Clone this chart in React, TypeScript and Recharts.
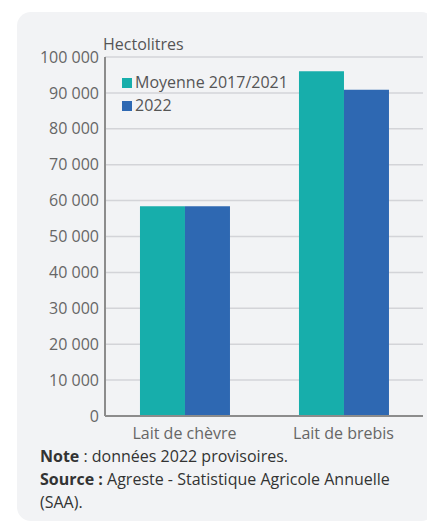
import { BarChart, Bar, XAxis, YAxis, CartesianGrid } from 'recharts';

const categories = ['Lait de chèvre', 'Lait de brebis'];
const moyenne = [58400, 96000];
const valeurs2022 = [58400, 90900];
const yTicks = [0, 10000, 20000, 30000, 40000, 50000, 60000, 70000, 80000, 90000, 100000];

const TEAL = '#17aeab';
const BLUE = '#2e68b2';
const FONT = '"Open Sans", sans-serif';

const series = [
  { key: 'moyenne', name: 'Moyenne 2017/2021', color: TEAL },
  { key: 'v2022', name: '2022', color: BLUE },
];

const data = categories.map((name, i) => ({
  name,
  moyenne: moyenne[i],
  v2022: valeurs2022[i],
}));

const fmt = (v: number) => String(v).replace(/\B(?=(\d{3})+(?!\d))/g, ' ');

export default function App() {
  return (
    <div style={{ position: 'relative', width: 427, height: 514, fontFamily: FONT }}>
      <div
        style={{
          position: 'absolute',
          left: 9,
          top: 4,
          width: 418,
          height: 509,
          background: '#f2f3f5',
          borderRadius: 14,
        }}
      />
      <div style={{ position: 'absolute', left: 0, top: 0 }}>
        <BarChart
          width={427}
          height={440}
          data={data}
          margin={{ top: 49, right: 12, bottom: 2, left: 0 }}
          barCategoryGap="22%"
          barGap={0}
        >
          <CartesianGrid vertical={false} stroke="#d3d4d8" strokeWidth={1.5} />
          <XAxis
            dataKey="name"
            height={30}
            tickSize={0}
            tickMargin={12}
            axisLine={{ stroke: '#8c8c8c', strokeWidth: 2 }}
            tick={{ fontSize: 16, fill: '#666', fontFamily: FONT }}
          />
          <YAxis
            width={97}
            domain={[0, 100000]}
            ticks={yTicks}
            interval={0}
            tickFormatter={fmt}
            tickSize={0}
            tickMargin={6}
            axisLine={{ stroke: '#8c8c8c', strokeWidth: 2 }}
            tick={{ fontSize: 16, fill: '#666', fontFamily: FONT }}
          />
          {series.map((s) => (
            <Bar key={s.key} dataKey={s.key} name={s.name} fill={s.color} isAnimationActive={false} />
          ))}
        </BarChart>
      </div>
      <div
        style={{
          position: 'absolute',
          left: 114,
          top: 63,
          fontSize: 16,
          lineHeight: '23px',
          color: '#555',
        }}
      >
        {series.map((s) => (
          <div key={s.key} style={{ display: 'flex', alignItems: 'baseline' }}>
            <span style={{ display: 'inline-block', width: 10, height: 10, background: s.color, marginRight: 3 }} />
            <span>{s.name}</span>
          </div>
        ))}
      </div>
      <div style={{ position: 'absolute', left: 95, top: 28, fontSize: 16, lineHeight: '16px', color: '#555' }}>
        Hectolitres
      </div>
      <div
        style={{
          position: 'absolute',
          left: 32,
          top: 437,
          width: 380,
          fontSize: 16,
          lineHeight: '23px',
          color: '#333',
        }}
      >
        <div>
          <b>Note</b> : données 2022 provisoires.
        </div>
        <div>
          <b>Source :</b> Agreste - Statistique Agricole Annuelle (SAA).
        </div>
      </div>
    </div>
  );
}
